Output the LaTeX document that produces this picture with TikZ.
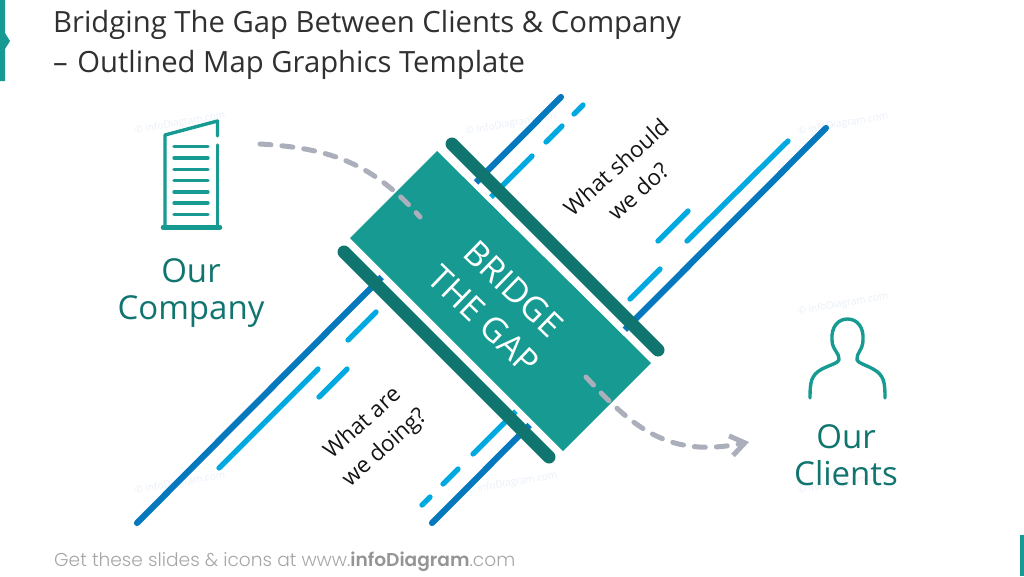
\documentclass[tikz,border=0pt]{standalone}
\usepackage{fontspec}
\setmainfont{Open Sans}
\newfontfamily\footfont[BoldFont={Poppins SemiBold}]{Poppins Light}
\usetikzlibrary{arrows.meta}
\definecolor{teal1}{HTML}{169A92}
\definecolor{teal2}{HTML}{11756F}
\definecolor{blue1}{HTML}{0678BE}
\definecolor{blue2}{HTML}{00A9E0}
\definecolor{gray1}{HTML}{ABAEBB}
\definecolor{ink}{HTML}{303030}
\definecolor{foot}{HTML}{A6A6A6}
\definecolor{foot2}{HTML}{959595}
\definecolor{mark}{HTML}{E9EFF8}
\tikzset{
 x=1pt,y=-1pt,
 road/.style={draw=blue1,line width=6.2pt,line cap=round},
 lane/.style={draw=blue2,line width=5.3pt,line cap=round},
 rail/.style={draw=teal2,line width=13pt,line cap=round},
 walk/.style={draw=gray1,line width=5pt,dash pattern=on 11pt off 11pt,line cap=round},
 icon/.style={draw=teal1,line width=3.4pt,line cap=round,line join=round},
 title/.style={anchor=base west,inner sep=0pt,text=ink,font=\fontsize{29.25}{34}\selectfont},
 big/.style={align=center,inner sep=0pt,text=teal2,font=\fontsize{33}{37}\selectfont},
 ask/.style={align=center,inner sep=0pt,text=black!92,rotate=42,font=\fontsize{22.4}{33}\selectfont},
 wm/.style={text=mark,inner sep=0pt,rotate=10,font=\fontsize{10}{12}\selectfont},
}
\begin{document}
\begin{tikzpicture}
\useasboundingbox (0,0) rectangle (1024,576);
% side marks
\fill[teal1] (0,0) -- (5,0) -- (5,33) -- (10,41) -- (5,49) -- (5,81) -- (0,81) -- cycle;
\fill[teal1] (1020,535) rectangle (1024,576);
% watermarks
\foreach \n/\p in {a/{180,123},b/{511,124},c/{843,124},d/{843,304},e/{180,483},f/{512,483},g/{843,483}}
  \node[wm] (wm\n) at (\p) {© infoDiagram.com};
% lanes
\coordinate (ra1) at (137,523); \coordinate (ra2) at (561,97);
\coordinate (rb1) at (432,523); \coordinate (rb2) at (826,128);
\draw[road] (ra1) -- (ra2);
\draw[road] (rb1) -- (rb2);
\coordinate (l1a) at (219,468); \coordinate (l1b) at (318,369);
\coordinate (l2a) at (319,397); \coordinate (l2b) at (347,369);
\coordinate (l3a) at (348,340); \coordinate (l3b) at (376,312);
\coordinate (l4a) at (470,218); \coordinate (l4b) at (532,156);
\coordinate (l5a) at (546,142); \coordinate (l5b) at (562,126);
\coordinate (l6a) at (574,114); \coordinate (l6b) at (583,105);
\coordinate (l7a) at (687,241); \coordinate (l7b) at (788,141);
\coordinate (l8a) at (658,241); \coordinate (l8b) at (688,211);
\coordinate (l9a) at (630,299); \coordinate (l9b) at (660,269);
\coordinate (l10a) at (473,454); \coordinate (l10b) at (535,392);
\coordinate (l11a) at (443,484); \coordinate (l11b) at (458,469);
\coordinate (l12a) at (422,505); \coordinate (l12b) at (430,497);
\foreach \i in {1,...,12} \draw[lane] (l\i a) -- (l\i b);
% bridge
\filldraw[fill=teal1,draw=white,line width=10pt,line join=miter]
  (437,151) -- (651,363) -- (563,451) -- (350,238) -- cycle;
\fill[teal1] (437,151) -- (651,363) -- (563,451) -- (350,238) -- cycle;
\coordinate (r1a) at (452,144); \coordinate (r1b) at (658,350);
\coordinate (r2a) at (344,252); \coordinate (r2b) at (549,457);
\draw[rail] (r1a) -- (r1b);
\draw[rail] (r2a) -- (r2b);
\node[align=center,inner sep=0pt,text=white,rotate=-44,font=\fontsize{34}{43}\selectfont] (bridge) at (499,304) {BRIDGE\\THE GAP};
% walking paths
\coordinate (w1a) at (260,144); \coordinate (w1b) at (420,217);
\coordinate (w2a) at (586,377); \coordinate (w2b) at (749,442);
\draw[walk] (w1a) .. controls (325,148) and (370,160) .. (w1b);
\draw[walk,-{Straight Barb[length=14pt,width=20pt,line width=5pt]}] (w2a) .. controls (635,430) and (670,458) .. (w2b);
% building
\draw[icon] (217.5,136) -- (217.5,121) -- (165,135) -- (165,227);
\draw[icon] (217.5,145) -- (217.5,227);
\draw[icon,line width=4.5pt] (163,227.5) -- (220,227.5);
\foreach \y in {146.5,158,169.5,180.5,192,203,214.5}
  \draw[icon,line width=3.2pt] (174,\y) -- (208,\y);
% person
\draw[icon] (810,398) .. controls (810,382) and (811,375) .. (822,369)
  .. controls (830,365) and (838,363) .. (839,360)
  .. controls (840,353) and (832,350) .. (832,340)
  .. controls (831,327) and (838,319) .. (847.5,319)
  .. controls (857,319) and (864,327) .. (863,340)
  .. controls (863,350) and (856,353) .. (857,360)
  .. controls (858,363) and (866,365) .. (873,369)
  .. controls (884,375) and (885,382) .. (885,398);
% texts
\node[title] (t1) at (53,32) {Bridging The Gap Between Clients \& Company};
\node[title] (t2) at (53,72) {–\kern2pt{} Outlined Map Graphics Template};
\node[big] (co) at (191,293) {Our\\Company};
\node[big] (cl) at (846,455) {Our\\Clients};
\node[ask] (q1) at (627,179) {What should\\we do?};
\node[ask] (q2) at (374,436) {What are\\we doing?};
\node[anchor=base west,inner sep=0pt,text=foot,font=\footfont\fontsize{18.6}{22}\selectfont] (ft) at (54,566) {Get these slides \& icons at www.\textbf{\textcolor{foot2}{infoDiagram}}.com};
\end{tikzpicture}
\end{document}
